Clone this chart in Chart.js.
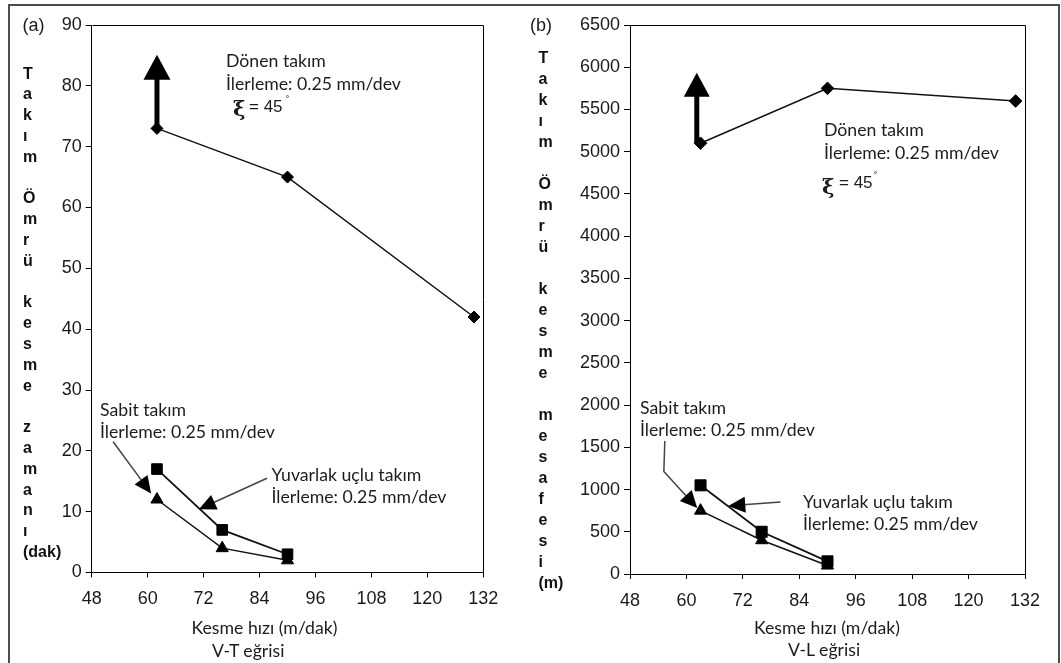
<!DOCTYPE html>
<html><head><meta charset="utf-8">
<script src="https://cdn.jsdelivr.net/npm/chart.js@4.4.1/dist/chart.umd.min.js"></script>
<style>
html,body{margin:0;padding:0;background:#fff;}
#wrap{position:relative;width:1061px;height:663px;overflow:hidden;background:#fff;}
#frame{position:absolute;left:8px;top:4px;width:1048px;height:720px;border:2px solid #4d4d4d;}
canvas{position:absolute;top:0;}
.t{position:absolute;white-space:pre;color:#1c1c1c;}
.ann{font-family:Lato,"Open Sans",sans-serif;line-height:22px;height:22px;}
.stack{position:absolute;font-family:"Liberation Sans",Arial,sans-serif;font-weight:bold;font-size:16px;color:#111;white-space:pre;}
.lab{font-family:"Liberation Sans",Arial,sans-serif;font-size:18px;line-height:22px;height:22px;}
.xi{font-family:"DejaVu Serif",serif;font-weight:bold;font-size:21px;line-height:24px;height:24px;}
.eq{font-family:"Liberation Sans",Arial,sans-serif;font-size:17px;line-height:20px;height:20px;}
.deg{font-family:"Liberation Sans",Arial,sans-serif;font-size:10px;line-height:12px;height:12px;}
</style>
</head><body>
<div id="wrap">
<div id="frame"></div>
<canvas id="c1" width="520" height="663" style="left:0px"></canvas>
<canvas id="c2" width="541" height="663" style="left:520px"></canvas>
</div>
<script>
// ---------- data ----------
// (a) V-T curve
const vtSpeedDonen = [62, 90, 130];
const vtLifeDonen = [73, 65, 42];
const vtSpeed = [62, 76, 90];
const vtLifeYuvarlak = [17, 7, 3];     // squares
const vtLifeSabit = [12, 4, 2];        // triangles
const vtXTicks = [48, 60, 72, 84, 96, 108, 120, 132];
const vtYTicks = [0, 10, 20, 30, 40, 50, 60, 70, 80, 90];

// (b) V-L curve
const vlSpeedDonen = [63, 90, 130];
const vlDistDonen = [5100, 5750, 5600];
const vlSpeed = [63, 76, 90];
const vlDistYuvarlak = [1050, 500, 150];  // squares
const vlDistSabit = [750, 400, 100];      // triangles
const vlXTicks = [48, 60, 72, 84, 96, 108, 120, 132];
const vlYTicks = [0, 500, 1000, 1500, 2000, 2500, 3000, 3500, 4000, 4500, 5000, 5500, 6000, 6500];

// ---------- helpers ----------
const xy = (xs, ys) => xs.map((x, i) => ({x: x, y: ys[i]}));

const boxPlugin = {
  id: 'box',
  afterDraw(chart) {
    const a = chart.chartArea, ctx = chart.ctx;
    ctx.save();
    ctx.strokeStyle = '#000'; ctx.lineWidth = 1;
    ctx.beginPath();
    ctx.moveTo(Math.round(a.left) + 0.5, Math.round(a.top) + 0.5);
    ctx.lineTo(Math.round(a.right) + 0.5, Math.round(a.top) + 0.5);
    ctx.lineTo(Math.round(a.right) + 0.5, Math.round(a.bottom) + 0.5);
    ctx.stroke();
    ctx.restore();
  }
};

const arrowPlugin = {
  id: 'arrows',
  afterDatasetsDraw(chart, args, o) {
    const xs = chart.scales.x, ys = chart.scales.y, ctx = chart.ctx;
    ctx.save();
    (o.items || []).forEach(a => {
      const pts = a.path.map(p => [xs.getPixelForValue(p[0]), ys.getPixelForValue(p[1])]);
      const n = pts.length, tip = pts[n - 1], prev = pts[n - 2];
      const dx = tip[0] - prev[0], dy = tip[1] - prev[1];
      const L = Math.hypot(dx, dy), ux = dx / L, uy = dy / L;
      const bx = tip[0] - ux * a.headLen, by = tip[1] - uy * a.headLen;
      ctx.strokeStyle = a.color; ctx.lineWidth = a.width; ctx.lineCap = 'butt'; ctx.lineJoin = 'round';
      ctx.beginPath();
      ctx.moveTo(pts[0][0], pts[0][1]);
      for (let i = 1; i < n - 1; i++) ctx.lineTo(pts[i][0], pts[i][1]);
      ctx.lineTo(bx + ux * 2, by + uy * 2);
      ctx.stroke();
      ctx.fillStyle = '#000';
      ctx.beginPath();
      ctx.moveTo(tip[0], tip[1]);
      ctx.lineTo(bx - uy * a.headW, by + ux * a.headW);
      ctx.lineTo(bx + uy * a.headW, by - ux * a.headW);
      ctx.closePath();
      ctx.fill();
    });
    ctx.restore();
  }
};

function makeChart(id, cfg) {
  const tickFont = {family: '"Liberation Sans", Arial, sans-serif', size: 18};
  return new Chart(document.getElementById(id), {
    type: 'line',
    data: {
      datasets: [
        {data: cfg.donen, borderColor: '#111', borderWidth: 1.5, pointStyle: 'rectRot', pointRadius: cfg.dR,
         pointBackgroundColor: '#000', pointBorderColor: '#000', pointBorderWidth: 1},
        {data: cfg.yuv, borderColor: '#111', borderWidth: 1.8, pointStyle: 'rect', pointRadius: cfg.sR,
         pointBackgroundColor: '#000', pointBorderColor: '#000', pointBorderWidth: 1},
        {data: cfg.sabit, borderColor: '#111', borderWidth: 1.5, pointStyle: 'triangle', pointRadius: 7,
         pointBackgroundColor: '#000', pointBorderColor: '#000', pointBorderWidth: 1}
      ]
    },
    options: {
      responsive: false, animation: false, devicePixelRatio: 1,
      layout: {padding: {left: 0, top: 25, right: cfg.padRight, bottom: 0}},
      plugins: {legend: {display: false}, tooltip: {enabled: false}, arrows: {items: cfg.arrows}},
      scales: {
        x: {
          type: 'linear', min: cfg.xTicks[0], max: cfg.xTicks[cfg.xTicks.length - 1],
          afterBuildTicks: s => { s.ticks = cfg.xTicks.map(v => ({value: v})); },
          afterFit: s => { s.height = cfg.xH; },
          grid: {display: true, drawOnChartArea: false, drawTicks: true, tickLength: 5, color: '#000'},
          border: {display: true, color: '#000', width: 1},
          ticks: {font: tickFont, color: '#1a1a1a', padding: 11, maxRotation: 0, autoSkip: false,
                  callback: v => String(v)}
        },
        y: {
          type: 'linear', min: cfg.yTicks[0], max: cfg.yTicks[cfg.yTicks.length - 1],
          afterBuildTicks: s => { s.ticks = cfg.yTicks.map(v => ({value: v})); },
          afterFit: s => { s.width = cfg.yW; },
          grid: {display: true, drawOnChartArea: false, drawTicks: true, tickLength: 6, color: '#000'},
          border: {display: true, color: '#000', width: 1},
          ticks: {font: tickFont, color: '#1a1a1a', padding: 4, autoSkip: false,
                  callback: v => String(v)}
        }
      }
    },
    plugins: [boxPlugin, arrowPlugin]
  });
}

makeChart('c1', {
  donen: xy(vtSpeedDonen, vtLifeDonen), yuv: xy(vtSpeed, vtLifeYuvarlak), sabit: xy(vtSpeed, vtLifeSabit),
  xTicks: vtXTicks, yTicks: vtYTicks, yW: 91.7, xH: 90.5, padRight: 36.7, dR: 6, sR: 7.5,
  arrows: [
    {path: [[62, 73], [62, 85.1]], width: 5, color: '#000', headLen: 25, headW: 13.5},
    {path: [[52.6, 21.5], [60.75, 13.0]], width: 1.5, color: '#444', headLen: 17, headW: 8},
    {path: [[85.6, 15.5], [71.0, 10.4]], width: 1.5, color: '#444', headLen: 17, headW: 8}
  ]
});

makeChart('c2', {
  donen: xy(vlSpeedDonen, vlDistDonen), yuv: xy(vlSpeed, vlDistYuvarlak), sabit: xy(vlSpeed, vlDistSabit),
  xTicks: vlXTicks, yTicks: vlYTicks, yW: 110, xH: 89, padRight: 36, dR: 6.3, sR: 7.8,
  arrows: [
    {path: [[62.2, 5100], [62.2, 5934]], width: 5, color: '#000', headLen: 24, headW: 13},
    {path: [[55.4, 1574], [55.2, 1213], [62.3, 781]], width: 1.5, color: '#444', headLen: 17, headW: 8},
    {path: [[80.0, 852], [68.9, 805]], width: 1.5, color: '#444', headLen: 17, headW: 8}
  ]
});

// ---------- text overlays ----------
const wrap = document.getElementById('wrap');
function measure(font, text) {
  const c = document.createElement('canvas').getContext('2d');
  c.font = font; return c.measureText(text).width;
}
const annSize = 100 * 175 / measure('100px Lato', 'İlerleme: 0.25 mm/dev');

function addText(cls, text, x, cy, opts) {
  opts = opts || {};
  const d = document.createElement('div');
  d.className = 't ' + cls;
  d.textContent = text;
  if (cls.indexOf('ann') >= 0) d.style.fontSize = annSize.toFixed(2) + 'px';
  wrap.appendChild(d);
  const h = d.offsetHeight, w = d.offsetWidth;
  d.style.top = (cy - h / 2) + 'px';
  d.style.left = (opts.center ? x - w / 2 : x) + 'px';
  return d;
}
function addStack(letters, x, top, lh) {
  const d = document.createElement('div');
  d.className = 'stack';
  d.style.left = x + 'px'; d.style.top = top + 'px'; d.style.lineHeight = lh + 'px';
  d.textContent = letters.join('\n');
  wrap.appendChild(d);
}

// panel labels
addText('lab', '(a)', 22.5, 25);
addText('lab', '(b)', 530, 25);

// stacked axis titles
addStack(['T','a','k','ı','m','','Ö','m','r','ü','','k','e','s','m','e','','z','a','m','a','n','ı','(dak)'], 23, 74 - 10.4, 20.8);
addStack(['T','a','k','ı','m','','Ö','m','r','ü','','k','e','s','m','e','','m','e','s','a','f','e','s','i','(m)'], 538.5, 57.3 - 10.5, 21.0);

// (a) annotations
addText('ann', 'Dönen takım', 226, 61);
addText('ann', 'İlerleme: 0.25 mm/dev', 226, 84);
addText('xi', 'ξ', 233, 109);
addText('eq', '= 45', 249, 107);
addText('deg', '˚', 286, 101);
addText('ann', 'Sabit takım', 100, 410);
addText('ann', 'İlerleme: 0.25 mm/dev', 100, 432);
addText('ann', 'Yuvarlak uçlu takım', 271.5, 475);
addText('ann', 'İlerleme: 0.25 mm/dev', 271.5, 497);
addText('ann', 'Kesme hızı (m/dak)', 264.5, 628, {center: true});
addText('ann', 'V-T eğrisi', 248, 651, {center: true});

// (b) annotations
addText('ann', 'Dönen takım', 824, 130);
addText('ann', 'İlerleme: 0.25 mm/dev', 824, 153);
addText('xi', 'ξ', 822, 187);
addText('eq', '= 45', 839, 183);
addText('deg', '˚', 874, 177);
addText('ann', 'Sabit takım', 640, 408);
addText('ann', 'İlerleme: 0.25 mm/dev', 640, 430);
addText('ann', 'Yuvarlak uçlu takım', 803, 502);
addText('ann', 'İlerleme: 0.25 mm/dev', 803, 524);
addText('ann', 'Kesme hızı (m/dak)', 827, 628, {center: true});
addText('ann', 'V-L eğrisi', 824, 650, {center: true});
</script>
</body></html>
